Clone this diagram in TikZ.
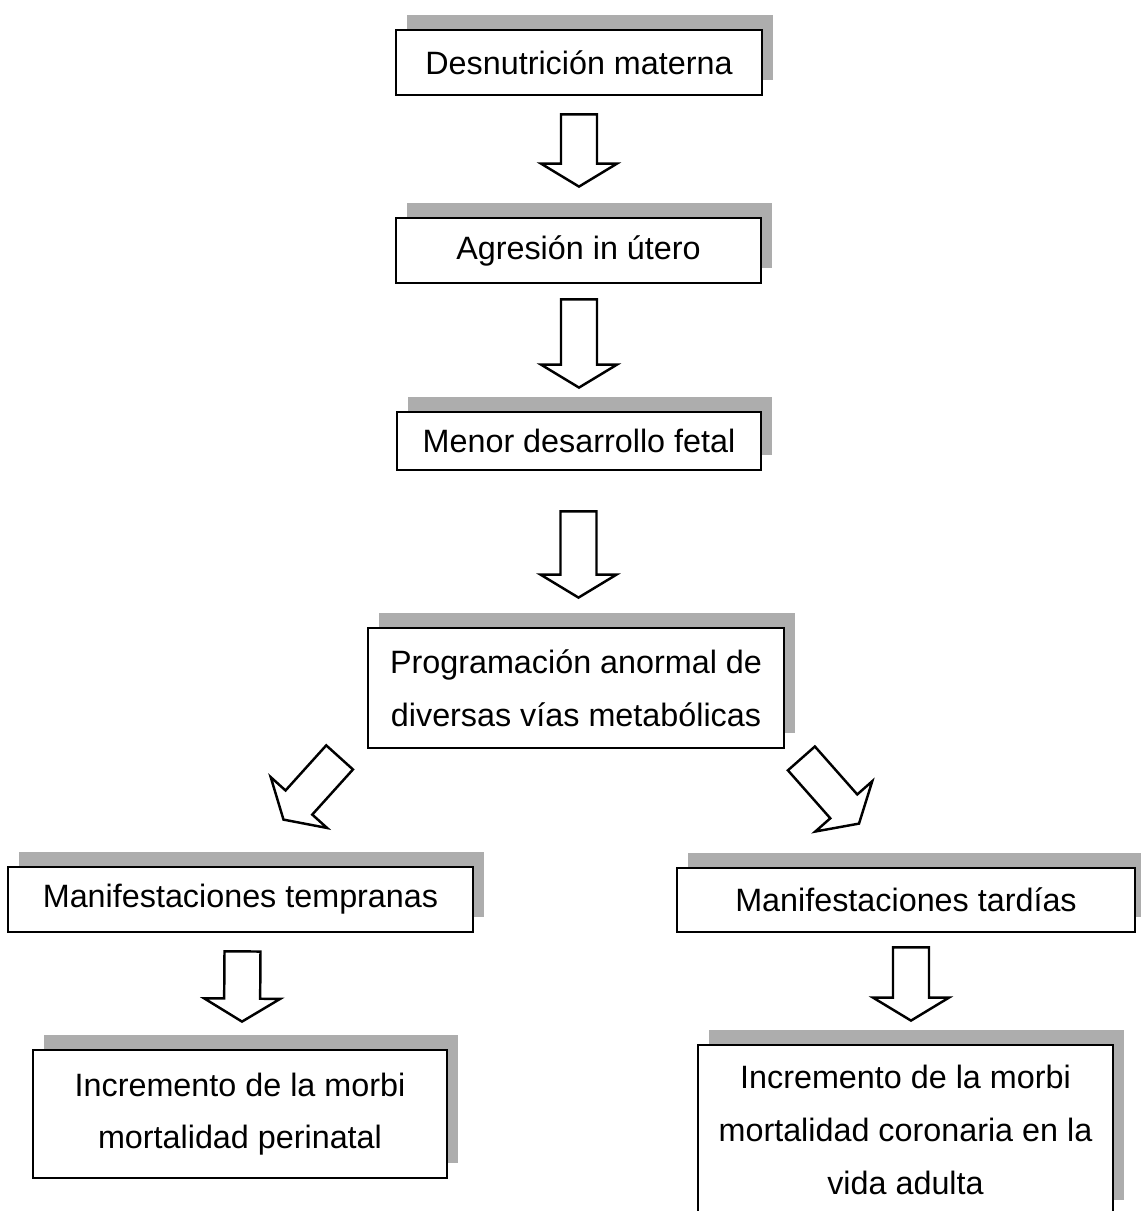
\documentclass[tikz,border=0pt]{standalone}
\usepackage{fontspec}
\setmainfont{Liberation Sans}
\usetikzlibrary{calc,shadows}
\tikzstyle{chart} = [x = 0.02cm, y = -0.02cm]
\tikzstyle{boxStyle} = [draw=black, fill=white, line width=1.6pt, align=center, inner sep=0pt,
  font=\fontsize{18.4}{30}\selectfont,
  drop shadow={shadow xshift=0.22cm, shadow yshift=0.30cm, fill=black!32, opacity=1}]
\newcommand{\px}{0.02cm}
\newcommand{\aw}{0.36cm}
\newcommand{\ah}{0.76cm}
\newcommand{\al}{0.46cm}
\tikzstyle{blockArrow} = [draw=black, fill=white, line width=1.4pt, line join=miter,
  to path={($(\tikztotarget)!\al!(\tikztostart)$) coordinate (headBase)
    ($(\tikztostart)!\aw!90:(\tikztotarget)$) -- ($(headBase)!\aw!90:(\tikztotarget)$)
    -- ($(headBase)!\ah!90:(\tikztotarget)$) -- (\tikztotarget)
    -- ($(headBase)!\ah!-90:(\tikztotarget)$) -- ($(headBase)!\aw!-90:(\tikztotarget)$)
    -- ($(\tikztostart)!\aw!-90:(\tikztotarget)$) -- cycle}]
\newcommand{\flowBox}[5]{\node [boxStyle, minimum width=#4*\px, minimum height=#5*\px] (#1) at (#2) {#3};}

\begin{document}
\begin{tikzpicture}[chart]
  \useasboundingbox (0,0) rectangle (1141,1211);
  \clip (0,0) rectangle (1141,1211);

  % boxes
  \flowBox{desnutricion}{579,62.5}{Desnutrición materna}{366}{65}
  \flowBox{agresion}{578.5,250.5}{Agresión in útero}{365}{65}
  \flowBox{menor}{579,441}{Menor desarrollo fetal}{364}{58}
  \flowBox{programacion}{576,688}{Programación anormal de\\diversas vías metabólicas}{416}{120}
  \flowBox{tempranas}{240.5,899.5}{Manifestaciones tempranas}{465}{65}
  \flowBox{tardias}{906,900}{Manifestaciones tardías}{458}{64}
  \flowBox{perinatal}{240,1114}{Incremento de la morbi\\mortalidad perinatal}{414}{128}
  \flowBox{coronaria}{905.5,1130}{Incremento de la morbi\\mortalidad coronaria en la\\vida adulta}{415}{170}

  % arrows
  \draw [blockArrow] ($(desnutricion.south)+(0,18)$) to ($(agresion.north)+(0.5,-30)$);
  \draw [blockArrow] ($(agresion.south)+(0.5,15)$) to ($(menor.north)+(0,-23)$);
  \draw [blockArrow] ($(menor.south)+(-0.5,40)$) to ($(programacion.north)+(2.5,-29)$);
  \draw [blockArrow] ($(programacion.south west)+(-27,8)$) to ($(tempranas.north)+(43,-46)$);
  \draw [blockArrow] ($(programacion.south east)+(16,9)$) to ($(tardias.north)+(-47,-43)$);
  \draw [blockArrow] ($(tempranas.south)+(2,18)$) to ($(perinatal.north)+(2,-27)$);
  \draw [blockArrow] ($(tardias.south)+(5,14)$) to ($(coronaria.north)+(5.5,-23)$);
\end{tikzpicture}
\end{document}
